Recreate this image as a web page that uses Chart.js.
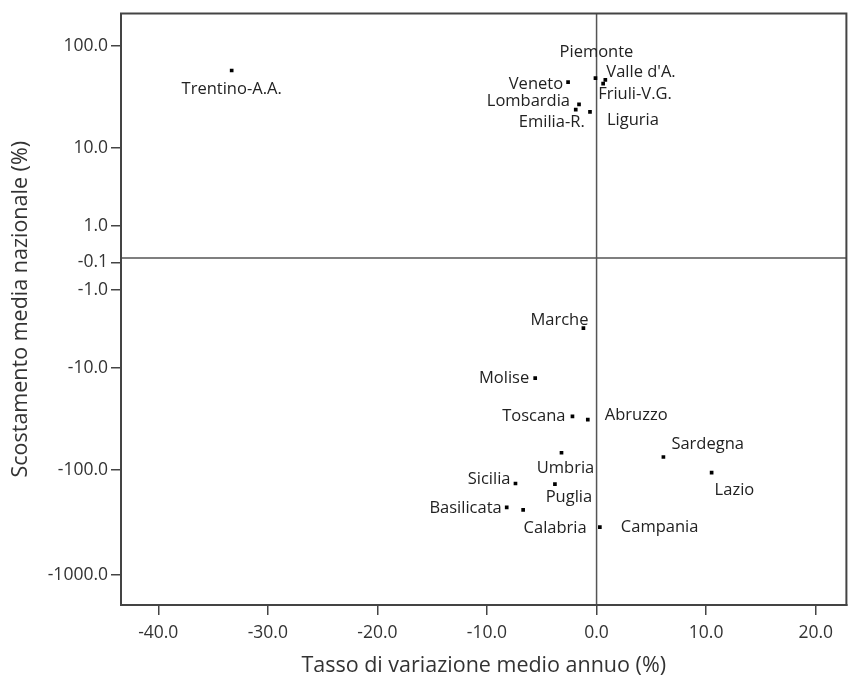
<!DOCTYPE html>
<html>
<head>
<meta charset="utf-8">
<script src="https://cdn.jsdelivr.net/npm/chart.js@4.4.0/dist/chart.umd.min.js"></script>
<style>
  html, body { margin: 0; padding: 0; background: #fff; }
  #wrap { width: 849px; height: 681px; }
</style>
</head>
<body>
<div id="wrap"><canvas id="chart" width="849" height="681"></canvas></div>
<script>
// regions and their values
const regions = [
  "Trentino-A.A.", "Piemonte", "Valle d'A.", "Friuli-V.G.", "Veneto", "Lombardia",
  "Emilia-R.", "Liguria", "Marche", "Molise", "Toscana", "Abruzzo", "Umbria",
  "Sardegna", "Lazio", "Sicilia", "Puglia", "Basilicata", "Calabria", "Campania"
];
// tasso di variazione medio annuo (%)
const growthRate = [
  -33.3, -0.1, 0.8, 0.6, -2.6, -1.6,
  -1.9, -0.6, -1.2, -5.6, -2.2, -0.8, -3.2,
  6.1, 10.5, -7.4, -3.8, -8.2, -6.7, 0.3
];
// scostamento media nazionale (%)
const deviation = [
  58.3, 49.2, 47.4, 43.5, 45.1, 27.4,
  24.3, 23.1, -3.6, -12.7, -30.5, -32.8, -68.5,
  -75.3, -106, -134.9, -136.8, -227.5, -240.5, -350.6
];
const xTicks = [-40, -30, -20, -10, 0, 10, 20];
const yTicks = [100, 10, 1, -0.1, -1, -10, -100, -1000];

// symmetric log transform used by the vertical axis
function symlog(v) {
  return Math.sign(v) * Math.log10(1 + Math.abs(v));
}

// label placement next to each point: [align, dx, dy]
const labelPos = {
  "Trentino-A.A.": ["center", 0, 19],
  "Piemonte": ["center", 1, -26],
  "Valle d'A.": ["left", 1, -8],
  "Friuli-V.G.": ["left", -5, 11],
  "Veneto": ["right", -5, 2],
  "Lombardia": ["right", -9, -3],
  "Emilia-R.": ["center", -24, 13],
  "Liguria": ["left", 17, 8],
  "Marche": ["right", 5, -8],
  "Molise": ["right", -6, 0],
  "Toscana": ["right", -7, 0],
  "Abruzzo": ["left", 17, -4],
  "Umbria": ["center", 4, 16],
  "Sardegna": ["left", 8, -13],
  "Lazio": ["left", 3, 18],
  "Sicilia": ["right", -5, -4],
  "Puglia": ["center", 14, 13],
  "Basilicata": ["right", -5, 1],
  "Calabria": ["center", 32, 18],
  "Campania": ["left", 21, 0]
};

const FONT = "'Open Sans', 'DejaVu Sans', sans-serif";
const axisColor = "#444";

const points = regions.map((r, i) => ({ x: growthRate[i], y: symlog(deviation[i]), name: r }));

const refLines = {
  id: "refLines",
  beforeDatasetsDraw(chart) {
    const { ctx, chartArea: a, scales } = chart;
    const x0 = scales.x.getPixelForValue(0);
    const y0 = scales.y.getPixelForValue(symlog(0));
    ctx.save();
    ctx.strokeStyle = "#555";
    ctx.lineWidth = 1.5;
    ctx.beginPath();
    ctx.moveTo(x0, a.top);
    ctx.lineTo(x0, a.bottom);
    ctx.moveTo(a.left, y0);
    ctx.lineTo(a.right, y0);
    ctx.stroke();
    // frame
    ctx.strokeStyle = axisColor;
    ctx.lineWidth = 2;
    ctx.strokeRect(a.left, a.top, a.right - a.left, a.bottom - a.top);
    ctx.restore();
  }
};

const pointLabels = {
  id: "pointLabels",
  afterDatasetsDraw(chart) {
    const { ctx } = chart;
    const meta = chart.getDatasetMeta(0);
    ctx.save();
    ctx.font = "16.5px " + FONT;
    ctx.fillStyle = "#222";
    ctx.textBaseline = "middle";
    meta.data.forEach((el, i) => {
      const p = labelPos[regions[i]] || ["left", 6, 0];
      ctx.textAlign = p[0];
      ctx.fillText(regions[i], el.x + p[1], el.y + p[2]);
    });
    ctx.restore();
  }
};

new Chart(document.getElementById("chart"), {
  type: "scatter",
  data: {
    datasets: [{
      data: points,
      pointStyle: "rect",
      pointRadius: 2.6,
      pointHoverRadius: 2.6,
      backgroundColor: "#000",
      borderColor: "#000",
      borderWidth: 0
    }]
  },
  options: {
    responsive: false,
    animation: false,
    layout: { padding: { top: 9, right: 0, left: 0, bottom: 0 } },
    plugins: {
      legend: { display: false },
      tooltip: { enabled: false }
    },
    scales: {
      x: {
        type: "linear",
        min: -43.4,
        max: 22.8,
        afterBuildTicks: axis => { axis.ticks = xTicks.map(v => ({ value: v })); },
        afterFit: axis => { axis.height = 76; },
        ticks: {
          callback: v => v.toFixed(1),
          color: "#333",
          font: { family: FONT, size: 17.5 },
          padding: 8
        },
        grid: { drawOnChartArea: false, drawTicks: true, tickLength: 10, color: axisColor, lineWidth: 1.5 },
        border: { display: true, color: axisColor, width: 2 },
        title: {
          display: true,
          text: "Tasso di variazione medio annuo (%)",
          color: "#333",
          font: { family: FONT, size: 21.5 },
          padding: { top: 0, bottom: 2 }
        }
      },
      y: {
        type: "linear",
        min: -3.282,
        max: 2.312,
        afterBuildTicks: axis => { axis.ticks = yTicks.map(v => ({ value: symlog(v) })); },
        afterFit: axis => { axis.width = 121; },
        ticks: {
          callback: (v, i) => yTicks[i].toFixed(1),
          color: "#333",
          font: { family: FONT, size: 17.5 },
          padding: 3
        },
        grid: { drawOnChartArea: false, drawTicks: true, tickLength: 10, color: axisColor, lineWidth: 1.5 },
        border: { display: true, color: axisColor, width: 2 },
        title: {
          display: true,
          text: "Scostamento media nazionale (%)",
          color: "#333",
          font: { family: FONT, size: 21.5 },
          padding: { top: 8, bottom: 0 }
        }
      }
    }
  },
  plugins: [refLines, pointLabels]
});
</script>
</body>
</html>
